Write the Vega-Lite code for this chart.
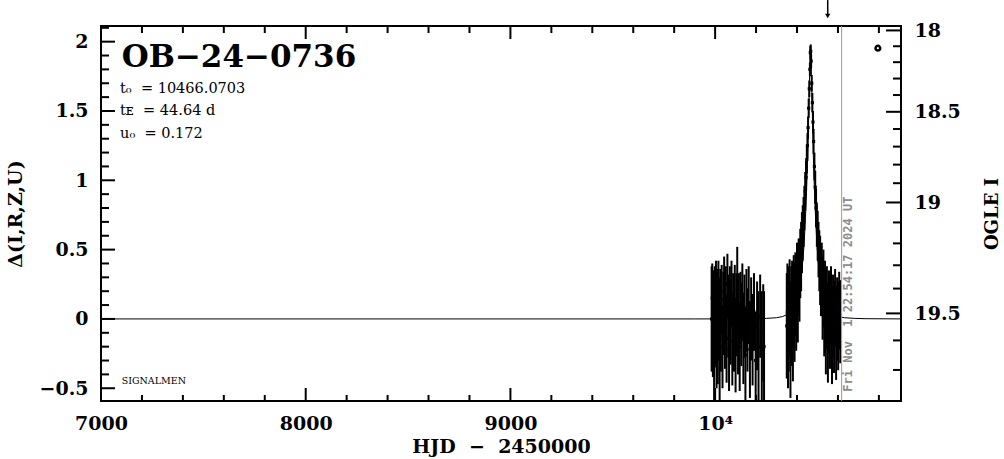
{
  "$schema": "https://vega.github.io/schema/vega-lite/v6.json",
  "width": 800,
  "height": 375,
  "autosize": {"type": "none"},
  "padding": {"left": 101, "top": 26, "right": 103, "bottom": 58},
  "background": "white",
  "config": {
    "view": {"stroke": "black", "strokeWidth": 2},
    "axis": {
      "grid": false,
      "domain": false,
      "ticks": false,
      "labelFont": "DejaVu Serif",
      "labelFontWeight": "bold",
      "labelFontSize": 19,
      "labelColor": "black",
      "titleFont": "DejaVu Serif",
      "titleFontWeight": "bold",
      "titleFontSize": 19,
      "titleColor": "black",
      "labelFlush": false,
      "labelOverlap": false
    }
  },
  "datasets": {
    "obs": [
      {"t": 9983, "d": 0.00, "lo": -0.38, "hi": 0.38},
      {"t": 9986, "d": 0.15, "lo": -0.10, "hi": 0.40},
      {"t": 9989, "d": -0.10, "lo": -0.42, "hi": 0.22},
      {"t": 9992, "d": 0.05, "lo": -0.25, "hi": 0.35},
      {"t": 9995, "d": -0.25, "lo": -0.63, "hi": 0.13},
      {"t": 9998, "d": 0.12, "lo": -0.14, "hi": 0.38},
      {"t": 10001, "d": -0.05, "lo": -0.35, "hi": 0.25},
      {"t": 10004, "d": 0.20, "lo": -0.02, "hi": 0.42},
      {"t": 10007, "d": -0.18, "lo": -0.50, "hi": 0.14},
      {"t": 10010, "d": 0.08, "lo": -0.20, "hi": 0.36},
      {"t": 10013, "d": -0.12, "lo": -0.47, "hi": 0.23},
      {"t": 10016, "d": 0.18, "lo": -0.06, "hi": 0.42},
      {"t": 10019, "d": 0.00, "lo": -0.30, "hi": 0.30},
      {"t": 10022, "d": -0.28, "lo": -0.63, "hi": 0.07},
      {"t": 10025, "d": 0.10, "lo": -0.16, "hi": 0.36},
      {"t": 10028, "d": -0.08, "lo": -0.38, "hi": 0.22},
      {"t": 10032, "d": 0.14, "lo": -0.11, "hi": 0.39},
      {"t": 10036, "d": -0.20, "lo": -0.50, "hi": 0.10},
      {"t": 10040, "d": 0.04, "lo": -0.26, "hi": 0.34},
      {"t": 10044, "d": 0.20, "lo": -0.05, "hi": 0.45},
      {"t": 10048, "d": -0.06, "lo": -0.36, "hi": 0.24},
      {"t": 10052, "d": 0.10, "lo": -0.18, "hi": 0.38},
      {"t": 10056, "d": -0.14, "lo": -0.46, "hi": 0.18},
      {"t": 10060, "d": 0.25, "lo": 0.03, "hi": 0.47},
      {"t": 10064, "d": 0.02, "lo": -0.28, "hi": 0.32},
      {"t": 10068, "d": -0.22, "lo": -0.52, "hi": 0.08},
      {"t": 10072, "d": 0.12, "lo": -0.14, "hi": 0.38},
      {"t": 10076, "d": -0.02, "lo": -0.33, "hi": 0.29},
      {"t": 10080, "d": 0.18, "lo": -0.06, "hi": 0.42},
      {"t": 10084, "d": -0.16, "lo": -0.48, "hi": 0.16},
      {"t": 10088, "d": 0.05, "lo": -0.23, "hi": 0.33},
      {"t": 10092, "d": -0.08, "lo": -0.38, "hi": 0.22},
      {"t": 10096, "d": 0.14, "lo": -0.11, "hi": 0.39},
      {"t": 10100, "d": -0.20, "lo": -0.53, "hi": 0.13},
      {"t": 10104, "d": 0.03, "lo": -0.27, "hi": 0.33},
      {"t": 10108, "d": 0.22, "lo": -0.08, "hi": 0.52},
      {"t": 10112, "d": -0.10, "lo": -0.40, "hi": 0.20},
      {"t": 10116, "d": 0.05, "lo": -0.23, "hi": 0.33},
      {"t": 10120, "d": -0.20, "lo": -0.52, "hi": 0.12},
      {"t": 10124, "d": 0.08, "lo": -0.18, "hi": 0.34},
      {"t": 10128, "d": -0.04, "lo": -0.34, "hi": 0.26},
      {"t": 10133, "d": 0.12, "lo": -0.16, "hi": 0.40},
      {"t": 10138, "d": -0.14, "lo": -0.47, "hi": 0.19},
      {"t": 10143, "d": 0.02, "lo": -0.28, "hi": 0.32},
      {"t": 10148, "d": -0.26, "lo": -0.61, "hi": 0.09},
      {"t": 10153, "d": 0.06, "lo": -0.24, "hi": 0.36},
      {"t": 10158, "d": -0.08, "lo": -0.38, "hi": 0.22},
      {"t": 10164, "d": 0.10, "lo": -0.18, "hi": 0.38},
      {"t": 10170, "d": -0.22, "lo": -0.57, "hi": 0.13},
      {"t": 10176, "d": 0.00, "lo": -0.30, "hi": 0.30},
      {"t": 10183, "d": -0.15, "lo": -0.48, "hi": 0.18},
      {"t": 10190, "d": 0.05, "lo": -0.23, "hi": 0.33},
      {"t": 10198, "d": -0.30, "lo": -0.65, "hi": 0.05},
      {"t": 10205, "d": -0.05, "lo": -0.37, "hi": 0.27},
      {"t": 10212, "d": -0.20, "lo": -0.60, "hi": 0.20},
      {"t": 10220, "d": 0.02, "lo": -0.28, "hi": 0.32},
      {"t": 10228, "d": -0.22, "lo": -0.64, "hi": 0.20},
      {"t": 10235, "d": -0.10, "lo": -0.45, "hi": 0.25},
      {"t": 10239, "d": -0.20, "lo": -0.60, "hi": 0.20},
      {"t": 10350, "d": -0.05, "lo": -0.43, "hi": 0.33},
      {"t": 10353, "d": 0.05, "lo": -0.30, "hi": 0.40},
      {"t": 10356, "d": -0.10, "lo": -0.50, "hi": 0.30},
      {"t": 10360, "d": 0.00, "lo": -0.38, "hi": 0.38},
      {"t": 10364, "d": 0.08, "lo": -0.27, "hi": 0.43},
      {"t": 10368, "d": -0.15, "lo": -0.57, "hi": 0.27},
      {"t": 10372, "d": 0.02, "lo": -0.34, "hi": 0.38},
      {"t": 10376, "d": 0.10, "lo": -0.22, "hi": 0.42},
      {"t": 10380, "d": -0.05, "lo": -0.45, "hi": 0.35},
      {"t": 10384, "d": 0.12, "lo": -0.22, "hi": 0.46},
      {"t": 10388, "d": 0.05, "lo": -0.31, "hi": 0.41},
      {"t": 10392, "d": 0.18, "lo": -0.12, "hi": 0.48},
      {"t": 10396, "d": 0.10, "lo": -0.23, "hi": 0.43},
      {"t": 10400, "d": 0.25, "lo": -0.05, "hi": 0.55},
      {"t": 10404, "d": 0.15, "lo": -0.17, "hi": 0.47},
      {"t": 10408, "d": 0.30, "lo": 0.02, "hi": 0.58},
      {"t": 10412, "d": 0.28, "lo": -0.02, "hi": 0.58},
      {"t": 10416, "d": 0.40, "lo": 0.15, "hi": 0.65},
      {"t": 10420, "d": 0.45, "lo": 0.20, "hi": 0.70},
      {"t": 10424, "d": 0.55, "lo": 0.33, "hi": 0.77},
      {"t": 10428, "d": 0.62, "lo": 0.42, "hi": 0.82},
      {"t": 10432, "d": 0.70, "lo": 0.52, "hi": 0.88},
      {"t": 10436, "d": 0.80, "lo": 0.64, "hi": 0.96},
      {"t": 10440, "d": 0.92, "lo": 0.78, "hi": 1.06},
      {"t": 10444, "d": 1.02, "lo": 0.90, "hi": 1.14},
      {"t": 10448, "d": 1.15, "lo": 1.05, "hi": 1.25},
      {"t": 10451, "d": 1.25, "lo": 1.16, "hi": 1.34},
      {"t": 10454, "d": 1.38, "lo": 1.30, "hi": 1.46},
      {"t": 10457, "d": 1.52, "lo": 1.45, "hi": 1.59},
      {"t": 10460, "d": 1.66, "lo": 1.60, "hi": 1.72},
      {"t": 10463, "d": 1.80, "lo": 1.75, "hi": 1.85},
      {"t": 10465, "d": 1.92, "lo": 1.87, "hi": 1.97},
      {"t": 10467, "d": 1.93, "lo": 1.88, "hi": 1.98},
      {"t": 10469, "d": 1.86, "lo": 1.81, "hi": 1.91},
      {"t": 10472, "d": 1.70, "lo": 1.64, "hi": 1.76},
      {"t": 10475, "d": 1.56, "lo": 1.49, "hi": 1.63},
      {"t": 10478, "d": 1.42, "lo": 1.34, "hi": 1.50},
      {"t": 10481, "d": 1.28, "lo": 1.19, "hi": 1.37},
      {"t": 10485, "d": 1.10, "lo": 1.00, "hi": 1.20},
      {"t": 10489, "d": 0.95, "lo": 0.83, "hi": 1.07},
      {"t": 10493, "d": 0.80, "lo": 0.66, "hi": 0.94},
      {"t": 10497, "d": 0.68, "lo": 0.52, "hi": 0.84},
      {"t": 10501, "d": 0.60, "lo": 0.42, "hi": 0.78},
      {"t": 10505, "d": 0.50, "lo": 0.30, "hi": 0.70},
      {"t": 10509, "d": 0.42, "lo": 0.20, "hi": 0.64},
      {"t": 10513, "d": 0.35, "lo": 0.10, "hi": 0.60},
      {"t": 10517, "d": 0.28, "lo": 0.02, "hi": 0.54},
      {"t": 10521, "d": 0.30, "lo": 0.05, "hi": 0.55},
      {"t": 10525, "d": 0.15, "lo": -0.15, "hi": 0.45},
      {"t": 10529, "d": 0.22, "lo": -0.06, "hi": 0.50},
      {"t": 10533, "d": 0.05, "lo": -0.27, "hi": 0.37},
      {"t": 10537, "d": 0.12, "lo": -0.18, "hi": 0.42},
      {"t": 10541, "d": -0.05, "lo": -0.40, "hi": 0.30},
      {"t": 10546, "d": 0.08, "lo": -0.22, "hi": 0.38},
      {"t": 10551, "d": -0.10, "lo": -0.46, "hi": 0.26},
      {"t": 10556, "d": 0.05, "lo": -0.25, "hi": 0.35},
      {"t": 10561, "d": -0.02, "lo": -0.36, "hi": 0.32},
      {"t": 10566, "d": 0.10, "lo": -0.18, "hi": 0.38},
      {"t": 10571, "d": -0.12, "lo": -0.47, "hi": 0.23},
      {"t": 10576, "d": 0.02, "lo": -0.28, "hi": 0.32},
      {"t": 10581, "d": -0.06, "lo": -0.39, "hi": 0.27},
      {"t": 10586, "d": 0.08, "lo": -0.20, "hi": 0.36},
      {"t": 10591, "d": -0.10, "lo": -0.44, "hi": 0.24},
      {"t": 10596, "d": 0.00, "lo": -0.30, "hi": 0.30},
      {"t": 10601, "d": -0.05, "lo": -0.37, "hi": 0.27},
      {"t": 10606, "d": 0.06, "lo": -0.22, "hi": 0.34},
      {"t": 10611, "d": -0.02, "lo": -0.32, "hi": 0.28}
    ],
    "model": [
      {"t": 7000, "m": 0.0},
      {"t": 9900, "m": 0.0},
      {"t": 10100, "m": 0.0005},
      {"t": 10200, "m": 0.0017},
      {"t": 10250, "m": 0.0039},
      {"t": 10300, "m": 0.0087},
      {"t": 10330, "m": 0.0172},
      {"t": 10360, "m": 0.0382},
      {"t": 10380, "m": 0.0702},
      {"t": 10400, "m": 0.1384},
      {"t": 10415, "m": 0.2416},
      {"t": 10425, "m": 0.3591},
      {"t": 10435, "m": 0.5455},
      {"t": 10445, "m": 0.846},
      {"t": 10452, "m": 1.1666},
      {"t": 10458, "m": 1.5375},
      {"t": 10462, "m": 1.795},
      {"t": 10466.07, "m": 1.923},
      {"t": 10470, "m": 1.795},
      {"t": 10474, "m": 1.5375},
      {"t": 10480, "m": 1.1666},
      {"t": 10487, "m": 0.846},
      {"t": 10497, "m": 0.5455},
      {"t": 10507, "m": 0.3591},
      {"t": 10517, "m": 0.2416},
      {"t": 10532, "m": 0.1384},
      {"t": 10552, "m": 0.0702},
      {"t": 10572, "m": 0.0382},
      {"t": 10602, "m": 0.0172},
      {"t": 10632, "m": 0.0087},
      {"t": 10682, "m": 0.0039},
      {"t": 10732, "m": 0.0017},
      {"t": 10908, "m": 0.0002}
    ],
    "xticks": [
      {"t": 7000, "major": true}, {"t": 7200, "major": false}, {"t": 7400, "major": false}, {"t": 7600, "major": false}, {"t": 7800, "major": false},
      {"t": 8000, "major": true}, {"t": 8200, "major": false}, {"t": 8400, "major": false}, {"t": 8600, "major": false}, {"t": 8800, "major": false},
      {"t": 9000, "major": true}, {"t": 9200, "major": false}, {"t": 9400, "major": false}, {"t": 9600, "major": false}, {"t": 9800, "major": false},
      {"t": 10000, "major": true}, {"t": 10200, "major": false}, {"t": 10400, "major": false}, {"t": 10600, "major": false}, {"t": 10800, "major": false}
    ],
    "yticks": [
      {"d": -0.5, "major": true}, {"d": -0.4, "major": false}, {"d": -0.3, "major": false}, {"d": -0.2, "major": false}, {"d": -0.1, "major": false},
      {"d": 0, "major": true}, {"d": 0.1, "major": false}, {"d": 0.2, "major": false}, {"d": 0.3, "major": false}, {"d": 0.4, "major": false},
      {"d": 0.5, "major": true}, {"d": 0.6, "major": false}, {"d": 0.7, "major": false}, {"d": 0.8, "major": false}, {"d": 0.9, "major": false},
      {"d": 1, "major": true}, {"d": 1.1, "major": false}, {"d": 1.2, "major": false}, {"d": 1.3, "major": false}, {"d": 1.4, "major": false},
      {"d": 1.5, "major": true}, {"d": 1.6, "major": false}, {"d": 1.7, "major": false}, {"d": 1.8, "major": false}, {"d": 1.9, "major": false},
      {"d": 2, "major": true}, {"d": 2.1, "major": false}
    ],
    "rticks": [
      {"d": 2.081, "major": true}, {"d": 1.967, "major": false}, {"d": 1.852, "major": false}, {"d": 1.734, "major": false}, {"d": 1.615, "major": false},
      {"d": 1.494, "major": true}, {"d": 1.370, "major": false}, {"d": 1.243, "major": false}, {"d": 1.113, "major": false}, {"d": 0.979, "major": false},
      {"d": 0.840, "major": true}, {"d": 0.696, "major": false}, {"d": 0.545, "major": false}, {"d": 0.387, "major": false}, {"d": 0.219, "major": false},
      {"d": 0.040, "major": true}, {"d": -0.155, "major": false}, {"d": -0.368, "major": false}
    ],
    "marker": [{"t": 10795, "d": 1.953}],
    "arrow": [{"t": 10550, "top": 2.30, "tip": 2.19, "head": 2.185}],
    "now": [{"t": 10618}],
    "notes": [
      {"t": 7101, "d": 1.819, "label": "OB−24−0736", "kind": "name"},
      {"t": 7093, "d": 1.628, "label": "t₀ \u00a0= 10466.0703", "kind": "param"},
      {"t": 7093, "d": 1.471, "label": "tᴇ \u00a0= 44.64 d", "kind": "param"},
      {"t": 7093, "d": 1.307, "label": "u₀ \u00a0= 0.172", "kind": "param"},
      {"t": 7101, "d": -0.469, "label": "SIGNALMEN", "kind": "small"},
      {"t": 10649, "d": -0.525, "label": "Fri Nov \u00a01 22:54:17 2024 UT", "kind": "date"}
    ]
  },
  "resolve": {"axis": {"x": "independent", "y": "independent"}},
  "layer": [
    {
      "data": {"name": "obs"},
      "mark": {"type": "rule", "color": "black", "strokeWidth": 2, "clip": true},
      "encoding": {
        "x": {"field": "t", "type": "quantitative", "scale": {"domain": [7000, 10908], "nice": false, "zero": false}, "axis": null},
        "y": {"field": "lo", "type": "quantitative", "scale": {"domain": [-0.592, 2.113], "nice": false, "zero": false}, "axis": null},
        "y2": {"field": "hi"}
      }
    },
    {
      "data": {"name": "obs"},
      "mark": {"type": "square", "color": "black", "filled": true, "opacity": 1, "size": 10, "clip": true},
      "encoding": {
        "x": {"field": "t", "type": "quantitative", "scale": {"domain": [7000, 10908], "nice": false, "zero": false},
          "axis": {"orient": "bottom", "values": [7000, 8000, 9000, 10000], "ticks": false, "labelPadding": 13,
            "labelExpr": "datum.value >= 10000 ? '10⁴' : format(datum.value, 'd')",
            "title": "HJD \u00a0−\u00a0 2450000", "titlePadding": 4}},
        "y": {"field": "d", "type": "quantitative", "scale": {"domain": [-0.592, 2.113], "nice": false, "zero": false},
          "axis": {"orient": "left", "values": [-0.5, 0, 0.5, 1, 1.5, 2], "ticks": false, "labelPadding": 13, "format": "~g",
            "title": "Δ(I,R,Z,U)", "titlePadding": 14}}
      }
    },
    {
      "data": {"name": "model"},
      "mark": {"type": "line", "color": "black", "strokeWidth": 1, "clip": true},
      "encoding": {
        "x": {"field": "t", "type": "quantitative", "scale": {"domain": [7000, 10908], "nice": false, "zero": false}, "axis": null},
        "y": {"field": "m", "type": "quantitative", "scale": {"domain": [-0.592, 2.113], "nice": false, "zero": false}, "axis": null}
      }
    },
    {
      "data": {"name": "xticks"},
      "mark": {"type": "tick", "orient": "vertical", "color": "black", "thickness": 2, "opacity": 1, "clip": true},
      "encoding": {
        "x": {"field": "t", "type": "quantitative", "scale": {"domain": [7000, 10908], "nice": false, "zero": false}, "axis": null},
        "y": {"datum": -0.592, "type": "quantitative", "scale": {"domain": [-0.592, 2.113], "nice": false, "zero": false}, "axis": null},
        "size": {"condition": {"test": "datum.major", "value": 26}, "value": 12}
      }
    },
    {
      "data": {"name": "xticks"},
      "mark": {"type": "tick", "orient": "vertical", "color": "black", "thickness": 2, "opacity": 1, "clip": true},
      "encoding": {
        "x": {"field": "t", "type": "quantitative", "scale": {"domain": [7000, 10908], "nice": false, "zero": false}, "axis": null},
        "y": {"datum": 2.113, "type": "quantitative", "scale": {"domain": [-0.592, 2.113], "nice": false, "zero": false}, "axis": null},
        "size": {"condition": {"test": "datum.major", "value": 26}, "value": 14}
      }
    },
    {
      "data": {"name": "yticks"},
      "mark": {"type": "tick", "orient": "horizontal", "color": "black", "thickness": 2, "opacity": 1, "clip": true},
      "encoding": {
        "x": {"datum": 7000, "type": "quantitative", "scale": {"domain": [7000, 10908], "nice": false, "zero": false}, "axis": null},
        "y": {"field": "d", "type": "quantitative", "scale": {"domain": [-0.592, 2.113], "nice": false, "zero": false}, "axis": null},
        "size": {"condition": {"test": "datum.major", "value": 28}, "value": 16}
      }
    },
    {
      "data": {"name": "rticks"},
      "mark": {"type": "tick", "orient": "horizontal", "color": "black", "thickness": 2, "opacity": 1, "clip": true},
      "encoding": {
        "x": {"datum": 10908, "type": "quantitative", "scale": {"domain": [7000, 10908], "nice": false, "zero": false}, "axis": null},
        "y": {"field": "d", "type": "quantitative", "scale": {"domain": [-0.592, 2.113], "nice": false, "zero": false}, "axis": null},
        "size": {"condition": {"test": "datum.major", "value": 30}, "value": 16}
      }
    },
    {
      "data": {"name": "marker"},
      "mark": {"type": "point", "shape": "circle", "filled": false, "color": "black", "opacity": 1, "strokeWidth": 2.5, "size": 22},
      "encoding": {
        "x": {"field": "t", "type": "quantitative", "scale": {"domain": [7000, 10908], "nice": false, "zero": false}, "axis": null},
        "y": {"field": "d", "type": "quantitative", "scale": {"domain": [-0.592, 2.113], "nice": false, "zero": false}, "axis": null}
      }
    },
    {
      "data": {"name": "arrow"},
      "mark": {"type": "rule", "color": "black", "strokeWidth": 1.5, "clip": false},
      "encoding": {
        "x": {"field": "t", "type": "quantitative", "scale": {"domain": [7000, 10908], "nice": false, "zero": false}, "axis": null},
        "y": {"field": "top", "type": "quantitative", "scale": {"domain": [-0.592, 2.113], "nice": false, "zero": false}, "axis": null},
        "y2": {"field": "tip"}
      }
    },
    {
      "data": {"name": "arrow"},
      "mark": {"type": "point", "shape": "triangle-down", "filled": true, "color": "black", "opacity": 1, "size": 28, "clip": false},
      "encoding": {
        "x": {"field": "t", "type": "quantitative", "scale": {"domain": [7000, 10908], "nice": false, "zero": false}, "axis": null},
        "y": {"field": "head", "type": "quantitative", "scale": {"domain": [-0.592, 2.113], "nice": false, "zero": false}, "axis": null}
      }
    },
    {
      "data": {"name": "now"},
      "mark": {"type": "rule", "color": "#999999", "strokeWidth": 1},
      "encoding": {
        "x": {"field": "t", "type": "quantitative", "scale": {"domain": [7000, 10908], "nice": false, "zero": false}, "axis": null}
      }
    },
    {
      "data": {"name": "notes"},
      "transform": [{"filter": "datum.kind == 'name'"}],
      "mark": {"type": "text", "font": "DejaVu Serif", "fontWeight": "bold", "fontSize": 31, "align": "left", "baseline": "alphabetic", "color": "black"},
      "encoding": {
        "x": {"field": "t", "type": "quantitative", "scale": {"domain": [7000, 10908], "nice": false, "zero": false}, "axis": null},
        "y": {"field": "d", "type": "quantitative", "scale": {"domain": [-0.592, 2.113], "nice": false, "zero": false},
          "axis": {"orient": "right", "values": [2.081, 1.494, 0.840, 0.040], "ticks": false, "labelPadding": 13,
            "labelExpr": "datum.value > 2 ? '18' : datum.value > 1 ? '18.5' : datum.value > 0.5 ? '19' : '19.5'",
            "labelAlign": "left",
            "title": "OGLE I", "titleAngle": 270, "titleBaseline": "top", "titleFontSize": 18, "titlePadding": 23}},
        "text": {"field": "label"}
      }
    },
    {
      "data": {"name": "notes"},
      "transform": [{"filter": "datum.kind == 'param'"}],
      "mark": {"type": "text", "font": "DejaVu Serif", "fontSize": 14.5, "align": "left", "baseline": "alphabetic", "color": "black"},
      "encoding": {
        "x": {"field": "t", "type": "quantitative", "scale": {"domain": [7000, 10908], "nice": false, "zero": false}, "axis": null},
        "y": {"field": "d", "type": "quantitative", "scale": {"domain": [-0.592, 2.113], "nice": false, "zero": false}, "axis": null},
        "text": {"field": "label"}
      }
    },
    {
      "data": {"name": "notes"},
      "transform": [{"filter": "datum.kind == 'small'"}],
      "mark": {"type": "text", "font": "DejaVu Serif", "fontSize": 9.5, "align": "left", "baseline": "alphabetic", "color": "black"},
      "encoding": {
        "x": {"field": "t", "type": "quantitative", "scale": {"domain": [7000, 10908], "nice": false, "zero": false}, "axis": null},
        "y": {"field": "d", "type": "quantitative", "scale": {"domain": [-0.592, 2.113], "nice": false, "zero": false}, "axis": null},
        "text": {"field": "label"}
      }
    },
    {
      "data": {"name": "notes"},
      "transform": [{"filter": "datum.kind == 'date'"}],
      "mark": {"type": "text", "font": "DejaVu Sans Mono", "fontWeight": "bold", "fontSize": 12, "angle": 270, "align": "left", "baseline": "middle", "color": "#8c8c8c"},
      "encoding": {
        "x": {"field": "t", "type": "quantitative", "scale": {"domain": [7000, 10908], "nice": false, "zero": false}, "axis": null},
        "y": {"field": "d", "type": "quantitative", "scale": {"domain": [-0.592, 2.113], "nice": false, "zero": false}, "axis": null},
        "text": {"field": "label"}
      }
    }
  ]
}
